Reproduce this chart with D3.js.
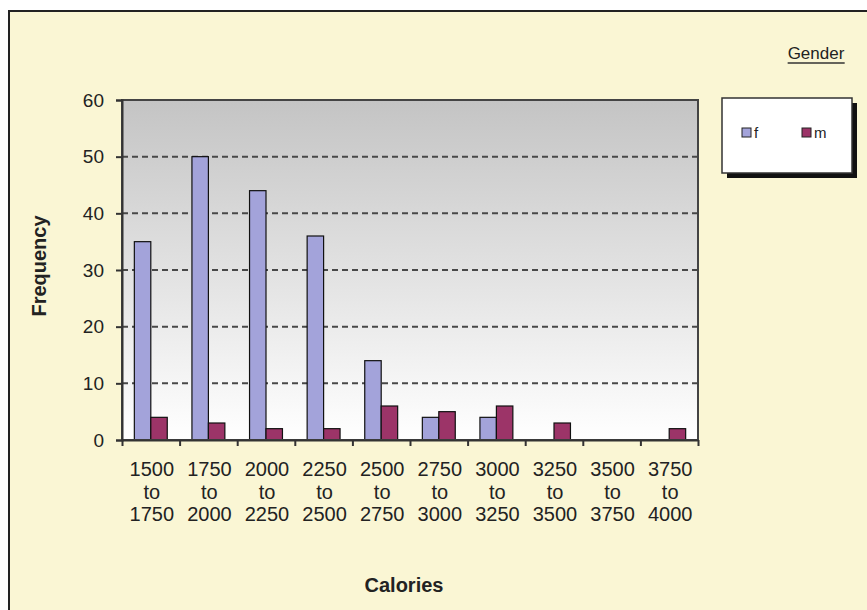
<!DOCTYPE html>
<html>
<head>
<meta charset="utf-8">
<script src="https://cdn.jsdelivr.net/npm/d3@7"></script>
<style>
  body { margin: 0; background: #fff; }
  text { font-family: "Liberation Sans", Arial, sans-serif; fill: #222; }
</style>
</head>
<body>
<div id="chart"></div>
<script>
// bins of calories, counts per gender
const bins = ["1500|to|1750", "1750|to|2000", "2000|to|2250", "2250|to|2500", "2500|to|2750",
              "2750|to|3000", "3000|to|3250", "3250|to|3500", "3500|to|3750", "3750|to|4000"];
const female = [35, 50, 44, 36, 14, 4, 4, 0, 0, 0];
const male = [4, 3, 2, 2, 6, 5, 6, 3, 0, 2];
const seriesNames = ["f", "m"];
const seriesColors = ["#a3a3da", "#9c3468"];
const yTicks = [0, 10, 20, 30, 40, 50, 60];

const width = 867, height = 610;
const plot = { left: 122, top: 100, right: 698, bottom: 440 };

const svg = d3.select("#chart").append("svg")
  .attr("width", width).attr("height", height);

// outer chart frame
svg.append("rect")
  .attr("x", 9).attr("y", 11)
  .attr("width", width + 10).attr("height", height + 10)
  .attr("fill", "#faf6d4")
  .attr("stroke", "#222").attr("stroke-width", 2);

const defs = svg.append("defs");
const grad = defs.append("linearGradient").attr("id", "plotGrad")
  .attr("x1", 0).attr("y1", 0).attr("x2", 0).attr("y2", 1);
grad.append("stop").attr("offset", "0%").attr("stop-color", "#c4c4c4");
grad.append("stop").attr("offset", "100%").attr("stop-color", "#ffffff");

const yScale = d3.scaleLinear().domain([0, 60]).range([plot.bottom, plot.top]);
const x0 = d3.scaleBand().domain(d3.range(bins.length))
  .range([plot.left, plot.right]).padding(0);
const x1 = d3.scaleBand().domain(seriesNames)
  .range([0, x0.bandwidth()]).paddingInner(0).paddingOuter(0.75);
const xEdges = d3.scaleLinear().domain([0, bins.length]).range([plot.left, plot.right]);

// plot area background
svg.append("rect")
  .attr("x", plot.left).attr("y", plot.top)
  .attr("width", plot.right - plot.left).attr("height", plot.bottom - plot.top)
  .attr("fill", "url(#plotGrad)");

// dashed gridlines
svg.append("g").selectAll("line")
  .data(yTicks.filter(d => d > 0 && d < 60))
  .enter().append("line")
  .attr("x1", plot.left).attr("x2", plot.right)
  .attr("y1", d => yScale(d)).attr("y2", d => yScale(d))
  .attr("stroke", "#484848").attr("stroke-width", 2)
  .attr("stroke-dasharray", "6,4");

// bars
const data = bins.map((b, i) => ({ i: i, values: [female[i], male[i]] }));
const groups = svg.append("g").selectAll("g")
  .data(data).enter().append("g")
  .attr("transform", d => `translate(${x0(d.i)},0)`);
groups.selectAll("rect")
  .data(d => d.values.map((v, k) => ({ key: seriesNames[k], v: v, k: k })).filter(d => d.v > 0))
  .enter().append("rect")
  .attr("x", d => x1(d.key))
  .attr("y", d => yScale(d.v))
  .attr("width", x1.bandwidth())
  .attr("height", d => yScale(0) - yScale(d.v))
  .attr("fill", d => seriesColors[d.k])
  .attr("stroke", "#111").attr("stroke-width", 1.2);

// plot border
svg.append("rect")
  .attr("x", plot.left).attr("y", plot.top)
  .attr("width", plot.right - plot.left).attr("height", plot.bottom - plot.top)
  .attr("fill", "none").attr("stroke", "#444").attr("stroke-width", 2);

// y axis
const yAxis = d3.axisLeft(yScale).tickValues(yTicks).tickSize(6).tickPadding(12);
const gy = svg.append("g").attr("transform", `translate(${plot.left},0)`).call(yAxis);
gy.select(".domain").attr("stroke", "#333").attr("stroke-width", 2);
gy.selectAll(".tick line").attr("stroke", "#333").attr("stroke-width", 2);
gy.selectAll(".tick text").style("font-size", "19px").attr("fill", "#333")
  .style("font-family", "'Liberation Sans', Arial, sans-serif");

// x axis (ticks at category edges)
const xAxis = d3.axisBottom(xEdges).tickValues(d3.range(bins.length + 1))
  .tickFormat("").tickSize(6).tickSizeOuter(0);
const gx = svg.append("g").attr("transform", `translate(0,${plot.bottom})`).call(xAxis);
gx.select(".domain").attr("stroke", "#333").attr("stroke-width", 2);
gx.selectAll(".tick line").attr("stroke", "#333").attr("stroke-width", 2);

// category labels (three lines each)
const labels = svg.append("g").selectAll("text")
  .data(bins).enter().append("text")
  .attr("x", (d, i) => x0(i) + x0.bandwidth() / 2 + 1)
  .attr("y", 476)
  .attr("text-anchor", "middle")
  .style("font-size", "20px")
  .attr("fill", "#333");
labels.selectAll("tspan")
  .data(d => d.split("|"))
  .enter().append("tspan")
  .attr("x", function () { return d3.select(this.parentNode).attr("x"); })
  .attr("dy", (d, j) => j === 0 ? 0 : 22.5)
  .text(d => d);

// axis titles
svg.append("text")
  .attr("x", 404).attr("y", 592)
  .attr("text-anchor", "middle")
  .style("font-size", "20px").style("font-weight", "bold")
  .text("Calories");

svg.append("text")
  .attr("transform", "translate(46,266) rotate(-90)")
  .attr("text-anchor", "middle")
  .style("font-size", "20px").style("font-weight", "bold")
  .text("Frequency");

// legend title
const gt = svg.append("text")
  .attr("x", 816).attr("y", 59)
  .attr("text-anchor", "middle")
  .style("font-size", "17px")
  .attr("fill", "#333")
  .text("Gender");
const tb = gt.node().getBBox();
svg.append("line")
  .attr("x1", tb.x).attr("x2", tb.x + tb.width)
  .attr("y1", 63).attr("y2", 63)
  .attr("stroke", "#333").attr("stroke-width", 1.5);

// legend box with shadow
const lg = { x: 722, y: 98, w: 130, h: 75 };
svg.append("rect")
  .attr("x", lg.x + 5).attr("y", lg.y + 5)
  .attr("width", lg.w).attr("height", lg.h)
  .attr("fill", "#111");
svg.append("rect")
  .attr("x", lg.x).attr("y", lg.y)
  .attr("width", lg.w).attr("height", lg.h)
  .attr("fill", "#fff").attr("stroke", "#333").attr("stroke-width", 1.5);

const legendX = d3.scalePoint().domain(seriesNames).range([lg.x + 20, lg.x + 80]);
const items = svg.append("g").selectAll("g")
  .data(seriesNames).enter().append("g")
  .attr("transform", d => `translate(${legendX(d)},${lg.y + 30})`);
items.append("rect")
  .attr("width", 9).attr("height", 9)
  .attr("fill", (d, i) => seriesColors[i])
  .attr("stroke", "#222").attr("stroke-width", 1);
items.append("text")
  .attr("x", 12).attr("y", 9.5)
  .style("font-size", "15px")
  .attr("fill", "#333")
  .text(d => d);
</script>
</body>
</html>
